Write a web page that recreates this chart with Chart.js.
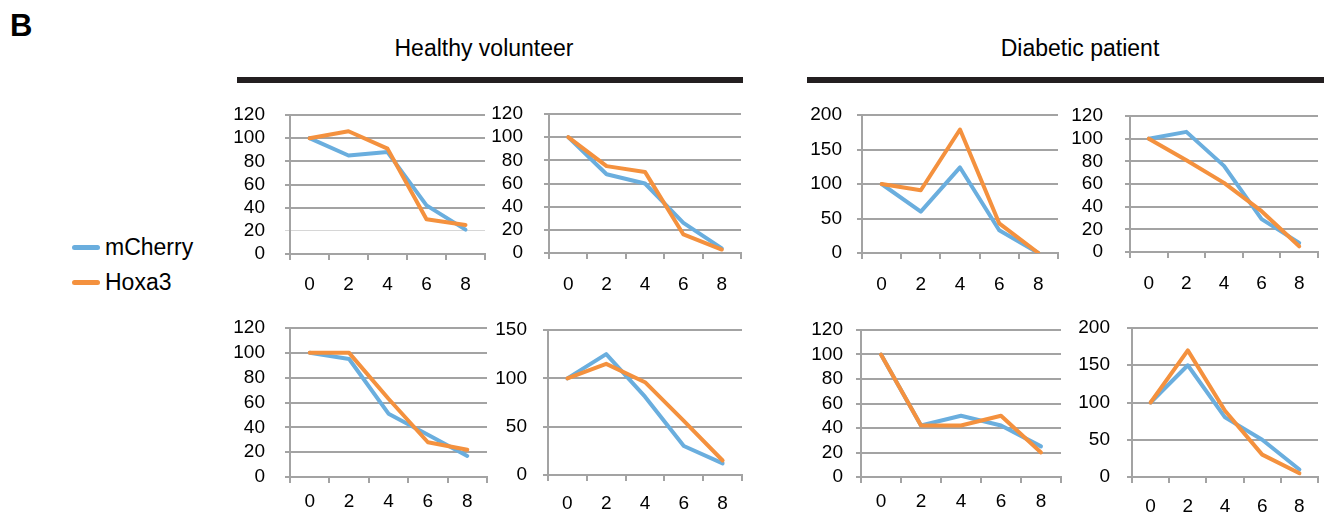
<!DOCTYPE html>
<html>
<head>
<meta charset="utf-8">
<title>Hoxa3 vs mCherry time course</title>
<script src="https://cdn.jsdelivr.net/npm/chart.js@4/dist/chart.umd.min.js"></script>
<style>
  html, body { margin: 0; padding: 0; background: #fff; }
  body {
    width: 1324px; height: 523px; position: relative; overflow: hidden;
    font-family: "Liberation Sans", Arial, Helvetica, sans-serif; color: #000;
  }
  .abs { position: absolute; white-space: nowrap; }
  .panel-label { left: 10px; top: 10px; font-size: 31px; line-height: 31px; font-weight: bold; }
  .group-title { font-size: 23px; line-height: 23px; transform: translateX(-50%); }
  .group-bar { height: 6px; background: #231f20; }
  .legend-swatch { width: 28px; height: 5px; border-radius: 3px; }
  .legend-text { font-size: 23px; line-height: 23px; }
  canvas { position: absolute; }
</style>
</head>
<body>
<div class="abs panel-label">B</div>

<div class="abs group-title" style="left:484px; top:37px;">Healthy volunteer</div>
<div class="abs group-bar" style="left:237px; top:77px; width:506px;"></div>
<div class="abs group-title" style="left:1080px; top:37px;">Diabetic patient</div>
<div class="abs group-bar" style="left:807px; top:77px; width:517px;"></div>

<div class="abs legend-swatch" style="left:72px; top:245px; background:#6aaede;"></div>
<div class="abs legend-text" style="left:105px; top:236px;">mCherry</div>
<div class="abs legend-swatch" style="left:72px; top:280px; background:#f4913e;"></div>
<div class="abs legend-text" style="left:105px; top:271px;">Hoxa3</div>

<script>
// Time points shared by every panel
const timePoints = ['0', '2', '4', '6', '8'];

// Healthy volunteer panels
const hvTopLeftCherry   = [100, 85, 88, 42, 21];
const hvTopLeftHoxa3    = [100, 106, 91, 30, 25];
const hvTopRightCherry  = [100, 68, 60, 26, 4];
const hvTopRightHoxa3   = [100, 75, 70, 16, 3];
const hvBotLeftCherry   = [100, 95, 51, 34, 17];
const hvBotLeftHoxa3    = [100, 100, 63, 28, 22];
const hvBotRightCherry  = [100, 125, 81, 30, 12];
const hvBotRightHoxa3   = [100, 115, 96, 56, 15];

// Diabetic patient panels
const dpTopLeftCherry   = [100, 60, 124, 33, 0];
const dpTopLeftHoxa3    = [100, 91, 179, 43, 0];
const dpTopRightCherry  = [100, 106, 76, 29, 8];
const dpTopRightHoxa3   = [100, 81, 61, 36, 5];
const dpBotLeftCherry   = [100, 42, 50, 42, 25];
const dpBotLeftHoxa3    = [100, 42, 42, 50, 20];
const dpBotRightCherry  = [100, 150, 80, 50, 10];
const dpBotRightHoxa3   = [100, 170, 89, 30, 5];

// Y-axis range per panel (max and tick step)
const axisMax  = [120, 120, 200, 120, 120, 150, 120, 200];
const axisStep = [20, 20, 50, 20, 20, 50, 20, 50];

const cherrySeries = [hvTopLeftCherry, hvTopRightCherry, dpTopLeftCherry, dpTopRightCherry,
                      hvBotLeftCherry, hvBotRightCherry, dpBotLeftCherry, dpBotRightCherry];
const hoxa3Series  = [hvTopLeftHoxa3, hvTopRightHoxa3, dpTopLeftHoxa3, dpTopRightHoxa3,
                      hvBotLeftHoxa3, hvBotRightHoxa3, dpBotLeftHoxa3, dpBotRightHoxa3];

// Plot-area rectangles (left, top, right, bottom) and label paddings
const layout = [
  { L: 290,  T: 115, R: 485,  B: 254, yPad: 20, xPad: 13, faint: 20 },
  { L: 549,  T: 114, R: 741,  B: 253, yPad: 21, xPad: 14 },
  { L: 862,  T: 115, R: 1058, B: 253, yPad: 15, xPad: 14 },
  { L: 1130, T: 116, R: 1318, B: 252, yPad: 22, xPad: 14 },
  { L: 290,  T: 328, R: 487,  B: 477, yPad: 20, xPad: 7 },
  { L: 548,  T: 330, R: 742,  B: 475, yPad: 16, xPad: 11 },
  { L: 861,  T: 330, R: 1061, B: 477, yPad: 13, xPad: 7 },
  { L: 1132, T: 328, R: 1318, B: 477, yPad: 17, xPad: 12 }
];

const BLUE = '#6aaede';
const ORANGE = '#f4913e';
const GRID = '#a3a3a3';
const FAINT = '#d6d6d6';
const Y_W = 75, X_H = 46, PAD_T = 15, PAD_R = 6;
const tickFont = { family: '"Liberation Sans", Arial, Helvetica, sans-serif', size: 19 };

layout.forEach((p, i) => {
  const cv = document.createElement('canvas');
  const left = p.L - Y_W, top = p.T - PAD_T;
  const w = p.R - left + PAD_R, h = p.B - top + X_H;
  cv.width = w; cv.height = h;
  cv.style.left = left + 'px'; cv.style.top = top + 'px';
  cv.style.width = w + 'px'; cv.style.height = h + 'px';
  document.body.appendChild(cv);

  const isFaint = ctx => p.faint !== undefined && ctx.tick && ctx.tick.value === p.faint;

  new Chart(cv, {
    type: 'line',
    data: {
      labels: timePoints,
      datasets: [
        { label: 'mCherry', data: cherrySeries[i], borderColor: BLUE, order: 1 },
        { label: 'Hoxa3', data: hoxa3Series[i], borderColor: ORANGE, order: 0 }
      ]
    },
    options: {
      responsive: false,
      animation: false,
      devicePixelRatio: 1,
      layout: { padding: { top: PAD_T, right: PAD_R, left: 0, bottom: 0 } },
      plugins: { legend: { display: false }, tooltip: { enabled: false } },
      elements: {
        point: { radius: 0, hoverRadius: 0 },
        line: { borderWidth: 4, tension: 0, borderJoinStyle: 'round', borderCapStyle: 'round', fill: false }
      },
      scales: {
        x: {
          type: 'category',
          offset: true,
          grid: { offset: true, drawOnChartArea: false, color: GRID, lineWidth: 2, tickLength: 6 },
          border: { color: GRID, width: 2 },
          ticks: { font: tickFont, color: '#000', padding: p.xPad, maxRotation: 0, autoSkip: false },
          afterFit: s => { s.height = X_H; s.paddingLeft = 0; s.paddingRight = 0; }
        },
        y: {
          min: 0,
          max: axisMax[i],
          ticks: { stepSize: axisStep[i], font: tickFont, color: '#000', padding: p.yPad, autoSkip: false },
          grid: {
            color: ctx => isFaint(ctx) ? FAINT : GRID,
            lineWidth: ctx => isFaint(ctx) ? 1 : 2,
            tickLength: 5
          },
          border: { color: GRID, width: 2 },
          afterFit: s => { s.width = Y_W; s.paddingTop = 0; s.paddingBottom = 0; }
        }
      }
    }
  });
});
</script>
</body>
</html>
